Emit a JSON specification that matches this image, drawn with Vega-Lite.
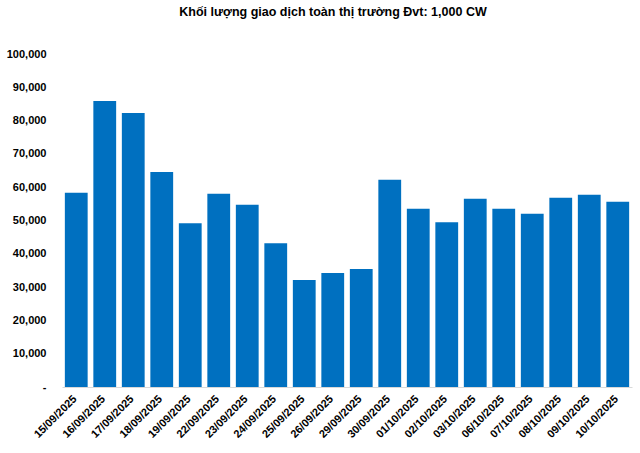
{
  "$schema": "https://vega.github.io/schema/vega-lite/v6.json",
  "autosize": {"type": "none"},
  "padding": {"left": 62, "top": 54, "right": 8, "bottom": 66},
  "width": 570,
  "height": 333,
  "background": "white",
  "title": {
    "text": "Khối lượng giao dịch toàn thị trường Đvt: 1,000 CW",
    "font": "Liberation Sans",
    "fontSize": 12.5,
    "fontWeight": "bold",
    "color": "#000000",
    "anchor": "middle",
    "dx": -14,
    "offset": 30
  },
  "data": {
    "values": [
      {"date": "15/09/2025", "value": 58300},
      {"date": "16/09/2025", "value": 85900},
      {"date": "17/09/2025", "value": 82300},
      {"date": "18/09/2025", "value": 64600},
      {"date": "19/09/2025", "value": 49200},
      {"date": "22/09/2025", "value": 58000},
      {"date": "23/09/2025", "value": 54700},
      {"date": "24/09/2025", "value": 43200},
      {"date": "25/09/2025", "value": 32100},
      {"date": "26/09/2025", "value": 34200},
      {"date": "29/09/2025", "value": 35400},
      {"date": "30/09/2025", "value": 62200},
      {"date": "01/10/2025", "value": 53500},
      {"date": "02/10/2025", "value": 49500},
      {"date": "03/10/2025", "value": 56500},
      {"date": "06/10/2025", "value": 53500},
      {"date": "07/10/2025", "value": 52000},
      {"date": "08/10/2025", "value": 56800},
      {"date": "09/10/2025", "value": 57700},
      {"date": "10/10/2025", "value": 55600}
    ]
  },
  "mark": {"type": "bar", "color": "#0070C0"},
  "encoding": {
    "x": {
      "field": "date",
      "type": "nominal",
      "sort": null,
      "scale": {"paddingInner": 0.2, "paddingOuter": 0.1},
      "axis": {
        "title": null,
        "labelAngle": -45,
        "labelFont": "Liberation Sans",
        "labelFontSize": 11,
        "labelFontWeight": "bold",
        "labelColor": "#000000",
        "labelAlign": "right",
        "labelBaseline": "middle",
        "labelOffset": -1,
        "labelPadding": 10,
        "ticks": false,
        "domainColor": "#d9d9d9",
        "domainWidth": 1
      }
    },
    "y": {
      "field": "value",
      "type": "quantitative",
      "scale": {"domain": [0, 100000], "nice": false},
      "axis": {
        "title": null,
        "values": [0, 10000, 20000, 30000, 40000, 50000, 60000, 70000, 80000, 90000, 100000],
        "labelExpr": "datum.value == 0 ? '-' : format(datum.value, ',')",
        "labelFont": "Liberation Sans",
        "labelFontSize": 11,
        "labelFontWeight": "bold",
        "labelColor": "#000000",
        "labelPadding": 16,
        "ticks": false,
        "domain": false,
        "grid": false
      }
    }
  },
  "config": {"view": {"stroke": null}}
}
